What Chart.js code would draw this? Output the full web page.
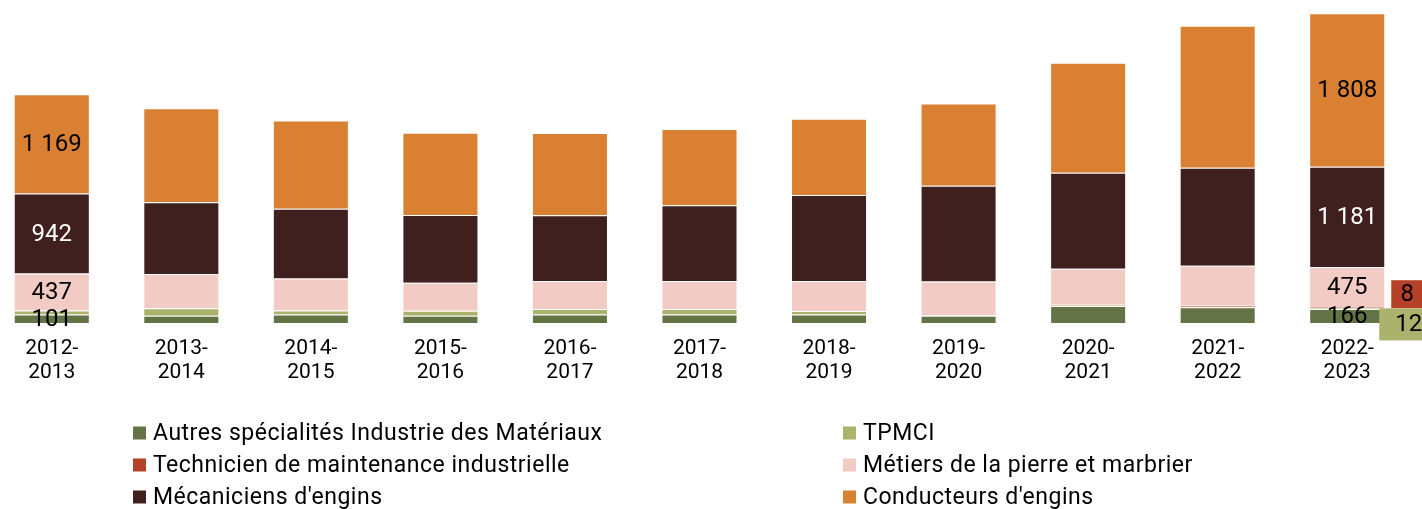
<!DOCTYPE html>
<html>
<head>
<meta charset="utf-8">
<script src="https://cdn.jsdelivr.net/npm/chart.js@4/dist/chart.umd.min.js"></script>
<style>
  html, body { margin: 0; padding: 0; background: #fff; overflow: hidden; }
  #wrap { position: relative; width: 1422px; height: 509px; overflow: hidden; }
  #graf { position: absolute; left: -13px; top: 0; }
</style>
</head>
<body>
<div id="wrap"><canvas id="graf" width="1450" height="509"></canvas></div>
<script>
// Données
const annees = [['2012-', '2013'], ['2013-', '2014'], ['2014-', '2015'], ['2015-', '2016'],
  ['2016-', '2017'], ['2017-', '2018'], ['2018-', '2019'], ['2019-', '2020'],
  ['2020-', '2021'], ['2021-', '2022'], ['2022-', '2023']];

const autres      = [101, 85, 100, 85, 100, 100, 100, 85, 200, 185, 166];
const tpmci       = [45, 90, 47, 60, 65, 65, 40, 3, 15, 0, 12];
const technicien  = [0, 0, 0, 0, 0, 0, 0, 0, 0, 18, 8];
const metiers     = [437, 401, 378, 330, 330, 330, 354, 401, 425, 472, 475];
const mecaniciens = [942, 846, 822, 799, 775, 893, 1015, 1129, 1129, 1153, 1181];
const conducteurs = [1169, 1109, 1038, 968, 968, 897, 897, 968, 1298, 1676, 1808];

// étiquettes affichées (index de barre -> séries étiquetées)
const barresEtiquetees = [0, 10];
const seriesDansBarre = [0, 3, 4, 5];
const seriesEnEncart = [2, 1];

const police = 'Roboto, "Noto Sans", sans-serif';

function fmt(v) {
  return String(v).replace(/\B(?=(\d{3})+(?!\d))/g, ' ');
}

function serie(label, data, couleur) {
  return {
    label: label,
    data: data,
    backgroundColor: couleur,
    borderColor: 'rgba(255,255,255,0.2)',
    borderWidth: 1,
    barPercentage: 0.587,
    categoryPercentage: 1
  };
}

const donnees = {
  labels: annees,
  datasets: [
    serie('Autres spécialités Industrie des Matériaux', autres, '#637345'),
    serie('TPMCI', tpmci, '#AAB26C'),
    serie('Technicien de maintenance industrielle', technicien, '#B44128'),
    serie('Métiers de la pierre et marbrier', metiers, '#F2CCC4'),
    serie("Mécaniciens d'engins", mecaniciens, '#40201E'),
    serie("Conducteurs d'engins", conducteurs, '#DA8032')
  ]
};

// étiquettes de valeurs
const pluginEtiquettes = {
  id: 'etiquettes',
  afterDatasetsDraw(chart) {
    const ctx = chart.ctx;
    ctx.save();
    ctx.font = '24px ' + police;
    ctx.textAlign = 'center';
    ctx.textBaseline = 'middle';
    barresEtiquetees.forEach(i => {
      seriesDansBarre.forEach(d => {
        const el = chart.getDatasetMeta(d).data[i];
        const v = chart.data.datasets[d].data[i];
        ctx.fillStyle = d === 4 ? '#ffffff' : '#000000';
        ctx.fillText(fmt(v), el.x, (el.y + el.base) / 2 + 1);
      });
    });
    // petites séries en encart à droite de la dernière barre
    const i = barresEtiquetees[barresEtiquetees.length - 1];
    seriesEnEncart.forEach(d => {
      const el = chart.getDatasetMeta(d).data[i];
      const v = chart.data.datasets[d].data[i];
      const droite = el.x + el.width / 2;
      let x, y, w, h;
      if (d === 2) { x = droite + 6; y = el.y - 27; w = 32; h = 28; }
      else { x = droite - 6; y = el.y + 0.5; w = 59; h = 32; }
      ctx.fillStyle = chart.data.datasets[d].backgroundColor;
      ctx.fillRect(x, y, w, h);
      ctx.fillStyle = '#000000';
      ctx.fillText(fmt(v), x + w / 2, y + h / 2 + 1);
    });
    ctx.restore();
  }
};

// légende en deux colonnes
const pluginLegende = {
  id: 'legende2col',
  afterDraw(chart) {
    const ctx = chart.ctx;
    const colonnes = [146, 856];
    const lignes = [433, 465, 497];
    ctx.save();
    ctx.font = '23px ' + police;
    ctx.letterSpacing = '0.5px';
    ctx.textAlign = 'left';
    ctx.textBaseline = 'middle';
    chart.data.datasets.forEach((ds, k) => {
      const x = colonnes[k % 2];
      const y = lignes[Math.floor(k / 2)];
      ctx.fillStyle = ds.backgroundColor;
      ctx.fillRect(x, y - 6.5, 13, 13);
      ctx.fillStyle = '#000000';
      ctx.fillText(ds.label, x + 20, y + 1);
    });
    ctx.restore();
  }
};

const ctxGraf = document.getElementById('graf').getContext('2d');
const graf = new Chart(ctxGraf, {
  type: 'bar',
  data: donnees,
  plugins: [pluginEtiquettes, pluginLegende],
  options: {
    responsive: false,
    animation: false,
    layout: { padding: { top: 9, right: 25, bottom: 116, left: 0 } },
    plugins: {
      legend: { display: false },
      tooltip: { enabled: false }
    },
    scales: {
      x: {
        stacked: true,
        grid: { display: false, drawTicks: false },
        border: { display: false },
        ticks: {
          color: '#000000',
          padding: 14,
          maxRotation: 0,
          autoSkip: false,
          font: { family: police, size: 21, lineHeight: 1.15 }
        },
        afterFit(scale) { scale.height = 70; }
      },
      y: {
        stacked: true,
        display: false,
        min: 0,
        max: 3700
      }
    }
  }
});
</script>
</body>
</html>
